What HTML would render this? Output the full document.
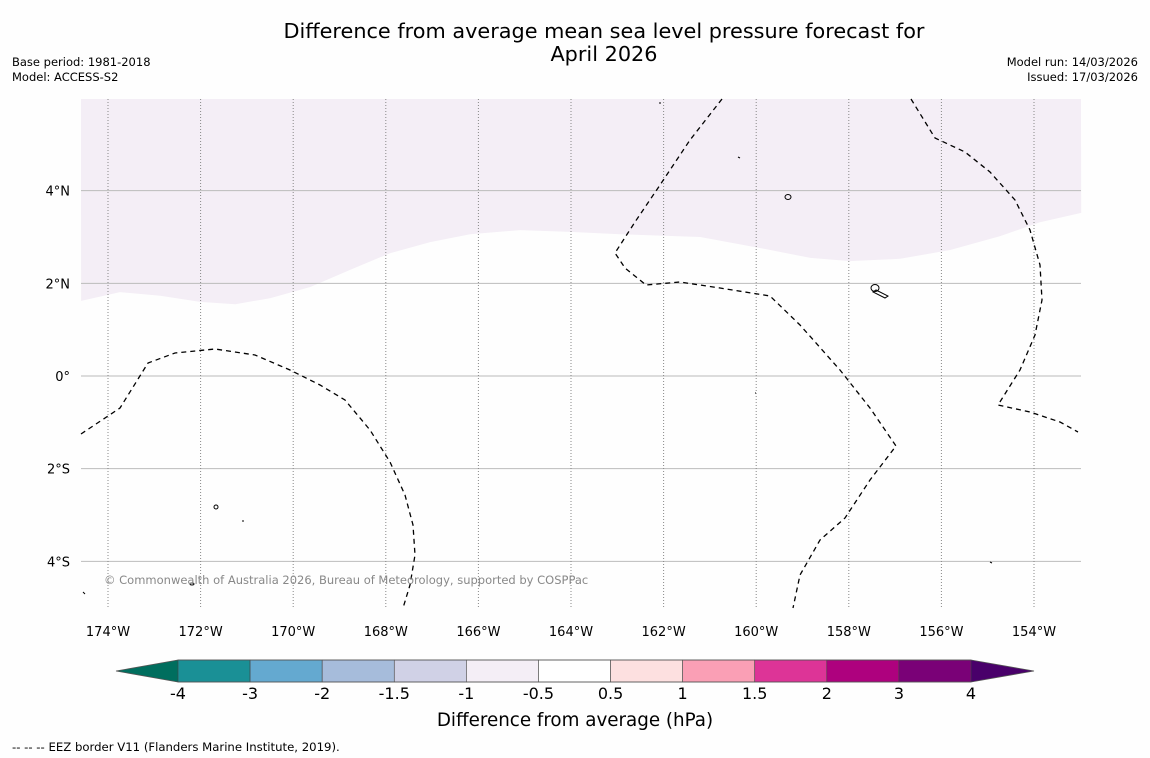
<!DOCTYPE html>
<html><head><meta charset="utf-8"><style>
body{margin:0;background:#fefefe;}
svg{display:block;font-family:"DejaVu Sans","Liberation Sans",sans-serif;}
</style></head><body>
<svg id="chart" width="1150" height="758" xmlns="http://www.w3.org/2000/svg">
<rect width="1150" height="758" fill="#fefefe"/>
<text x="604" y="38" font-size="20.8" text-anchor="middle">Difference from average mean sea level pressure forecast for</text>
<text x="604" y="61" font-size="20.8" text-anchor="middle">April 2026</text>
<text x="12" y="66" font-size="11.5">Base period: 1981-2018</text>
<text x="12" y="81" font-size="11.5">Model: ACCESS-S2</text>
<text x="1138" y="66" font-size="11.5" text-anchor="end">Model run: 14/03/2026</text>
<text x="1138" y="81" font-size="11.5" text-anchor="end">Issued: 17/03/2026</text>
<g id="map"></g>
<g id="eez" fill="none" stroke="#000" stroke-width="1.3" stroke-dasharray="5,4">
<path d="M81,434 L120,408 L148,363 L175,353 L215,349 L255,355 L290,370 L320,385 L345,400 L370,430 L390,462 L405,495 L413,525 L415,555 L410,585 L403,608"/>
<path d="M722,99 L690,140 L660,185 L635,222 L615,253 L625,268 L646,285 L680,282 L720,288 L770,296 L800,325 L840,370 L870,408 L896,446 L870,480 L845,518 L820,540 L800,575 L793,608"/>
<path d="M911,99 L935,138 L965,152 L990,172 L1015,200 L1030,230 L1040,265 L1042,300 L1035,335 L1020,370 L998,405 L1030,412 L1060,422 L1078,432"/>
</g>
<g fill="none" stroke="#000" stroke-width="1">
<ellipse cx="788" cy="197" rx="3" ry="2.5"/><ellipse cx="875" cy="288" rx="4" ry="3.5"/><path d="M876,290 L888,296 L885,298 L873,292Z"/>
<ellipse cx="216" cy="507" rx="2" ry="2"/><ellipse cx="192" cy="584" rx="2" ry="1"/><path d="M738,157 l2,1 M659,103 l2,0 M243,520 l0,2 M755,393 l1,0 M990,562 l2,1 M83,592 l2,2"/>
</g>
<text x="104" y="584" font-size="11.5" fill="#888">© Commonwealth of Australia 2026, Bureau of Meteorology, supported by COSPPac</text>
<g id="cbar"></g>
<text x="575" y="726" font-size="18.3" text-anchor="middle">Difference from average (hPa)</text>
<text x="12" y="751" font-size="11.7">--  --  -- EEZ border V11 (Flanders Marine Institute, 2019).</text>
</svg>
<script>
const boundaryLon=[-174.58,-173.74,-172.87,-172.01,-171.25,-170.50,-169.63,-168.77,-167.91,-167.04,-166.18,-165.10,-164.02,-162.94,-161.21,-159.91,-158.83,-157.97,-156.89,-155.81,-154.73,-153.87,-152.98];
const boundaryLat=[1.62,1.81,1.73,1.60,1.55,1.68,1.92,2.29,2.65,2.89,3.06,3.15,3.11,3.06,3.00,2.76,2.55,2.48,2.53,2.72,3.02,3.32,3.52];
const lonTicks=[-174,-172,-170,-168,-166,-164,-162,-160,-158,-156,-154];
const latTicks=[4,2,0,-2,-4];
const cbarLevels=["-4","-3","-2","-1.5","-1","-0.5","0.5","1","1.5","2","3","4"];
const cbarColors=["#1a9096","#64a9d0","#a6bcdb","#d0d1e6","#f4eef6","#ffffff","#fde0e0","#fa9fb5","#dd3497","#ae017e","#7a0177"];
const NS="http://www.w3.org/2000/svg";
const X0=81,X1=1081,Y0=99,Y1=608;
const xs=lon=>108+(lon+174)*46.3;
const ys=lat=>376-lat*46.33;
function mk(t,a,p){const e=document.createElementNS(NS,t);for(const k in a)e.setAttribute(k,a[k]);p.appendChild(e);return e;}
const map=document.getElementById('map');
let d=`M${X0},${Y0} L${X1},${Y0} `;
for(let i=boundaryLon.length-1;i>=0;i--)d+=`L${xs(boundaryLon[i]).toFixed(1)},${ys(boundaryLat[i]).toFixed(1)} `;
d+='Z';
const fill=mk('path',{d:d,fill:'#f4eef6'},map);


latTicks.forEach(l=>{
 const g=mk('line',{x1:X0,x2:X1,y1:ys(l),y2:ys(l),stroke:'#bbb','stroke-width':1},map);
 
 
 const t=mk('text',{x:70,y:ys(l)+5,'font-size':13,'text-anchor':'end'},map);
 t.textContent=l===0?'0°':Math.abs(l)+'°'+(l>0?'N':'S');
 
 
});
lonTicks.forEach(l=>{
 const g=mk('line',{x1:xs(l),x2:xs(l),y1:Y0,y2:Y1,stroke:'#888','stroke-width':1,'stroke-dasharray':'1,2'},map);
 
 
 const t=mk('text',{x:xs(l),y:636,'font-size':13,'text-anchor':'middle'},map);
 t.textContent=Math.abs(l)+'°W';
 
 
});
const cb=document.getElementById('cbar');
const CB0=178,CB1=971,CT=660,CBt=682,w=(CB1-CB0)/cbarColors.length;
const lt=mk('polygon',{points:`116,671 ${CB0},${CT} ${CB0},${CBt}`,fill:'#006e5e'},cb);


const rt=mk('polygon',{points:`1034,671 ${CB1},${CT} ${CB1},${CBt}`,fill:'#49006a'},cb);


cbarColors.forEach((c,i)=>{
 const r=mk('rect',{x:CB0+i*w,y:CT,width:w,height:CBt-CT,fill:c,stroke:'#444','stroke-width':0.6},cb);
 
 
});
mk('polygon',{points:`116,671 ${CB0},${CT} ${CB1},${CT} 1034,671 ${CB1},${CBt} ${CB0},${CBt}`,fill:'none',stroke:'#555','stroke-width':0.8},cb);
cbarLevels.forEach((s,i)=>{
 const t=mk('text',{x:CB0+i*w,y:699,'font-size':16,'text-anchor':'middle'},cb);
 t.textContent=s;
 
 
});
</script>
</body></html>
